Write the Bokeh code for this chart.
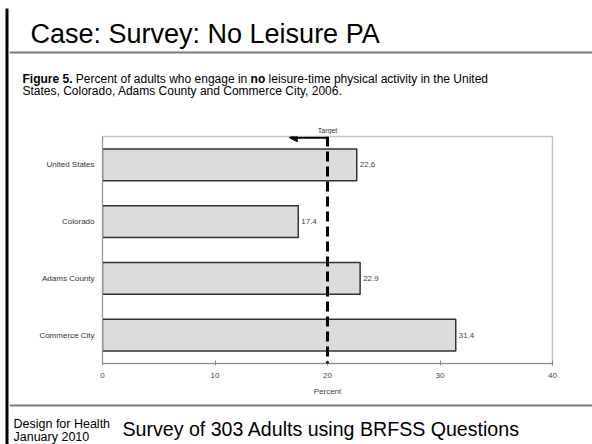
from bokeh.plotting import figure
from bokeh.layouts import row, column
from bokeh.models import (FactorRange, Range1d, ColumnDataSource, LabelSet, Label,
                          Span, Arrow, NormalHead, BoxAnnotation)
from bokeh.embed import file_html
from bokeh.resources import INLINE
from bokeh.core.properties import value

# ---- data ----
categories = ["United States", "Colorado", "Adams County", "Commerce City"]
percents = [22.6, 17.4, 22.9, 31.4]
value_labels = ["22.6", "17.4", "22.9", "31.4"]
target = 20
x_ticks = [0, 10, 20, 30, 40]
x_max = 40

title_text = "Case: Survey: No Leisure PA"
footer_main = "Survey of 303 Adults using BRFSS Questions"
footer_left1 = "Design for Health"
footer_left2 = "January 2010"

FONT = "Liberation Sans"

# ---- layout geometry (page pixels) ----
PW, PH = 592, 444
S = 9                      # width of the left border strip
CW = PW - S                # width of the right column
T_H = 134                  # top band height
C_TOP, C_BOT = 134, 402    # chart figure vertical extent
FL, FR, FT, FB = 102, 552, 136, 363   # chart frame edges
B_H = PH - C_BOT


def no_align(f):
    if "frame_align" in f.properties():
        f.frame_align = False
    return f


def blank(w, h, xr, yr):
    f = figure(width=w, height=h, output_backend="svg", toolbar_location=None,
               x_range=xr, y_range=yr, min_border=0)
    f.axis.visible = False
    f.grid.visible = False
    f.outline_line_color = None
    f.background_fill_color = "white"
    f.border_fill_color = "white"
    return no_align(f)


def lab(f, x, y, text, size, style="normal", color="black", font=FONT, **kw):
    f.add_layout(Label(x=x, y=y, text=text, text_baseline="middle",
                       text_align=kw.pop("align", "left"), text_font=font,
                       text_font_size=size, text_font_style=style,
                       text_color=color, **kw))


# ---- left border strip ----
strip = blank(S, PH, Range1d(0, S), Range1d(PH, 0))
strip.add_layout(BoxAnnotation(left=5, right=8, top=8, bottom=PH,
                               fill_color="black", fill_alpha=1, line_color=None))

# ---- top band: title, rule, caption ----
top = blank(CW, T_H, Range1d(S, PW), Range1d(T_H, 0))
scale = (FR - FL) / x_max
top.extra_x_ranges = {"pct": Range1d((S - FL) / scale, (PW - FL) / scale)}
top.add_layout(Span(location=52, dimension="width", line_color="#7a7a7a", line_width=2))
lab(top, 30, 33, title_text, "27px")
cap = "12px"
lab(top, 22, 78, "Figure 5.", cap, "bold")
lab(top, 75.3, 78, "Percent of adults who engage in", cap)
lab(top, 250.1, 78, "no", cap, "bold")
lab(top, 268.1, 78, "leisure-time physical activity in the United", cap)
lab(top, 22, 90, "States, Colorado, Adams County and Commerce City, 2006.", cap)
lab(top, target, 130, "Target", "7px", color="#333333", align="center",
    x_range_name="pct")

# ---- chart ----
CH = C_BOT - C_TOP
p = figure(width=CW, height=CH, output_backend="svg", toolbar_location=None,
           y_range=FactorRange(factors=categories[::-1]),
           x_range=Range1d(0, x_max),
           min_border_left=FL - S, min_border_right=PW - FR,
           min_border_top=FT - C_TOP, min_border_bottom=C_BOT - FB)
no_align(p)
p.background_fill_color = "white"
p.border_fill_color = "white"
p.outline_line_color = "#c4c4c4"
p.outline_line_width = 1.5
p.xgrid.visible = False
p.ygrid.visible = False

src = ColumnDataSource(dict(cat=categories, pct=percents, lbl=value_labels))
p.hbar(y="cat", left=0, right="pct", height=0.56, source=src,
       fill_color="#dcdcdc", line_color="#333333", line_width=1.5)
p.add_layout(LabelSet(x="pct", y="cat", text="lbl", source=src, x_offset=3,
                      text_baseline="middle", text_font=value(FONT),
                      text_font_size="8px", text_color="#444444"))

xa = p.xaxis[0]
xa.ticker = x_ticks
xa.axis_label = "Percent"
xa.axis_label_text_font = FONT
xa.axis_label_text_font_size = "8px"
xa.axis_label_text_font_style = "normal"
xa.axis_label_text_color = "#444444"
xa.axis_label_standoff = 6
xa.major_label_text_font = FONT
xa.major_label_text_font_size = "8px"
xa.major_label_text_color = "#444444"
xa.major_label_standoff = 7
xa.major_tick_in = 3
xa.major_tick_out = 2
xa.minor_tick_line_color = None
xa.axis_line_color = "#888888"
xa.major_tick_line_color = "#888888"

ya = p.yaxis[0]
ya.major_label_text_font = FONT
ya.major_label_text_font_size = "8px"
ya.major_label_text_color = "#333333"
ya.major_label_standoff = 8
ya.major_tick_in = 0
ya.major_tick_out = 0
ya.axis_line_color = "#999999"

p.add_layout(Span(location=target, dimension="height", line_color="black",
                  line_width=3, line_dash="10 5"))
top_y = len(categories) - 0.02
p.add_layout(Arrow(end=NormalHead(size=8, fill_color="black", line_color="black"),
                   x_start=target, x_end=target - 3.4, y_start=top_y, y_end=top_y,
                   line_color="black", line_width=2))

# ---- bottom band: rule and footer ----
bot = blank(CW, B_H, Range1d(S, PW), Range1d(PH, C_BOT))
bot.add_layout(Span(location=405, dimension="width", line_color="#7a7a7a", line_width=2))
lab(bot, 13, 423, footer_left1, "12.5px")
lab(bot, 13, 436.5, footer_left2, "12.5px")
lab(bot, 122, 428, footer_main, "19.6px")

layout = row(strip, column(top, p, bot, spacing=0), spacing=0)
open("out.html", "w").write(file_html(layout, INLINE))
